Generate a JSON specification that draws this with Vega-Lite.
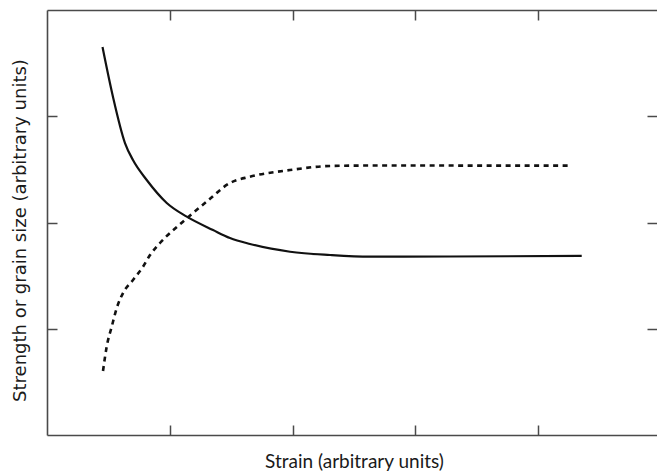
{
  "$schema": "https://vega.github.io/schema/vega-lite/v6.json",
  "width": 610,
  "height": 425,
  "autosize": {"type": "none"},
  "padding": {"left": 47, "top": 10, "right": 0, "bottom": 37},
  "background": "white",
  "config": {
    "view": {"stroke": null},
    "font": "Lato",
    "axis": {
      "domain": true,
      "domainColor": "#4a4a4a",
      "domainWidth": 1.6,
      "grid": false,
      "labels": false,
      "tickSize": -10,
      "tickColor": "#4a4a4a",
      "tickWidth": 1.5,
      "titleFont": "Lato",
      "titleFontSize": 19,
      "titleFontWeight": "normal",
      "titleColor": "#1a1a1a"
    }
  },
  "data": {
    "values": [
      {"x": 0.452, "y": 3.652, "series": "strength"},
      {"x": 0.537, "y": 3.184, "series": "strength"},
      {"x": 0.635, "y": 2.748, "series": "strength"},
      {"x": 0.700, "y": 2.588, "series": "strength"},
      {"x": 0.812, "y": 2.400, "series": "strength"},
      {"x": 0.975, "y": 2.184, "series": "strength"},
      {"x": 1.138, "y": 2.055, "series": "strength"},
      {"x": 1.352, "y": 1.929, "series": "strength"},
      {"x": 1.490, "y": 1.854, "series": "strength"},
      {"x": 1.653, "y": 1.798, "series": "strength"},
      {"x": 1.979, "y": 1.725, "series": "strength"},
      {"x": 2.305, "y": 1.694, "series": "strength"},
      {"x": 2.630, "y": 1.678, "series": "strength"},
      {"x": 3.282, "y": 1.680, "series": "strength"},
      {"x": 4.354, "y": 1.685, "series": "strength"},
      {"x": 0.456, "y": 0.602, "series": "grain"},
      {"x": 0.486, "y": 0.831, "series": "grain"},
      {"x": 0.527, "y": 1.019, "series": "grain"},
      {"x": 0.568, "y": 1.195, "series": "grain"},
      {"x": 0.619, "y": 1.336, "series": "grain"},
      {"x": 0.700, "y": 1.459, "series": "grain"},
      {"x": 0.782, "y": 1.584, "series": "grain"},
      {"x": 0.839, "y": 1.694, "series": "grain"},
      {"x": 0.920, "y": 1.807, "series": "grain"},
      {"x": 1.107, "y": 2.008, "series": "grain"},
      {"x": 1.300, "y": 2.196, "series": "grain"},
      {"x": 1.490, "y": 2.372, "series": "grain"},
      {"x": 1.653, "y": 2.431, "series": "grain"},
      {"x": 1.979, "y": 2.494, "series": "grain"},
      {"x": 2.305, "y": 2.532, "series": "grain"},
      {"x": 2.630, "y": 2.536, "series": "grain"},
      {"x": 4.243, "y": 2.535, "series": "grain"}
    ]
  },
  "layer": [
    {
      "transform": [{"filter": "datum.series === 'strength'"}],
      "mark": {"type": "line", "color": "#111111", "strokeWidth": 2.2, "interpolate": "monotone"},
      "encoding": {
        "x": {
          "field": "x", "type": "quantitative",
          "scale": {"domain": [0, 4.967], "nice": false, "zero": false},
          "axis": {"orient": "bottom", "values": [1, 2, 3, 4], "title": "Strain (arbitrary units)", "titleX": 307, "titleY": 32, "titleBaseline": "alphabetic"}
        },
        "y": {
          "field": "y", "type": "quantitative",
          "scale": {"domain": [0, 4], "nice": false, "zero": false},
          "axis": {"orient": "left", "values": [1, 2, 3], "title": "Strength or grain size (arbitrary units)", "titleFont": "DejaVu Sans", "titleFontSize": 18, "titleX": -22, "titleY": 220, "titleAngle": -90, "titleBaseline": "alphabetic", "titleAlign": "center"}
        }
      }
    },
    {
      "transform": [{"filter": "datum.series === 'grain'"}],
      "mark": {"type": "line", "color": "#111111", "strokeWidth": 2.6, "strokeDash": [5, 4.5], "interpolate": "monotone"},
      "encoding": {
        "x": {
          "field": "x", "type": "quantitative",
          "scale": {"domain": [0, 4.967], "nice": false, "zero": false},
          "axis": {"orient": "top", "values": [1, 2, 3, 4], "title": null}
        },
        "y": {
          "field": "y", "type": "quantitative",
          "scale": {"domain": [0, 4], "nice": false, "zero": false},
          "axis": {"orient": "right", "values": [1, 2, 3], "title": null, "domain": false}
        }
      }
    }
  ],
  "resolve": {"axis": {"x": "independent", "y": "independent"}}
}
